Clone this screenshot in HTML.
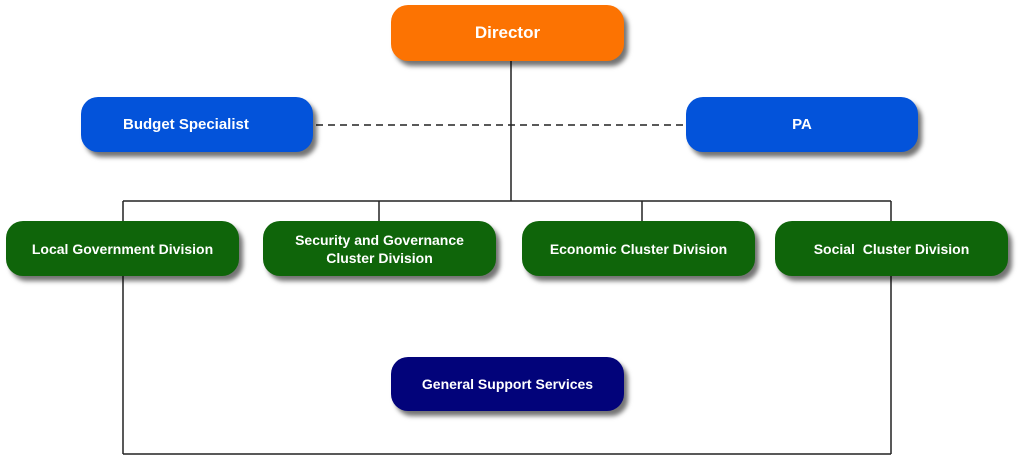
<!DOCTYPE html>
<html><head><style>
body{margin:0;width:1024px;height:456px;background:#fff;position:relative;overflow:hidden;font-family:"Liberation Sans",sans-serif}
.b{position:absolute;border-radius:17px;color:#fff;font-weight:bold;display:flex;align-items:center;justify-content:center;text-align:center;box-shadow:4px 5px 5px rgba(0,0,0,.55);font-size:14px;line-height:18px}
.g{background:#0f650a;top:221px;height:55px;width:233px}
</style></head><body>
<svg width="1024" height="456" style="position:absolute;left:0;top:0">
<g stroke="#222" stroke-width="1.5" fill="none">
<line x1="511" y1="60" x2="511" y2="201"/>
<line x1="123" y1="201" x2="891" y2="201"/>
<line x1="123" y1="201" x2="123" y2="454"/>
<line x1="891" y1="201" x2="891" y2="454"/>
<line x1="379" y1="201" x2="379" y2="221"/>
<line x1="642" y1="201" x2="642" y2="221"/>
<line x1="123" y1="454" x2="891" y2="454"/>
<line x1="316" y1="125" x2="686" y2="125" stroke-dasharray="7,5"/>
</g></svg>
<div class="b" style="left:391px;top:5px;width:233px;height:56px;background:#fc7302;font-size:17px">Director</div>
<div class="b" style="left:81px;top:97px;width:232px;height:55px;background:#0353da;font-size:15px;justify-content:flex-start;padding-left:42px;box-sizing:border-box">Budget Specialist</div>
<div class="b" style="left:686px;top:97px;width:232px;height:55px;background:#0353da;font-size:15px">PA</div>
<div class="b g" style="left:6px">Local Government Division</div>
<div class="b g" style="left:263px">Security and Governance<br>Cluster Division</div>
<div class="b g" style="left:522px">Economic Cluster Division</div>
<div class="b g" style="left:775px">Social&nbsp; Cluster Division</div>
<div class="b" style="left:391px;top:357px;width:233px;height:54px;background:#02037a">General Support Services</div>
</body></html>
